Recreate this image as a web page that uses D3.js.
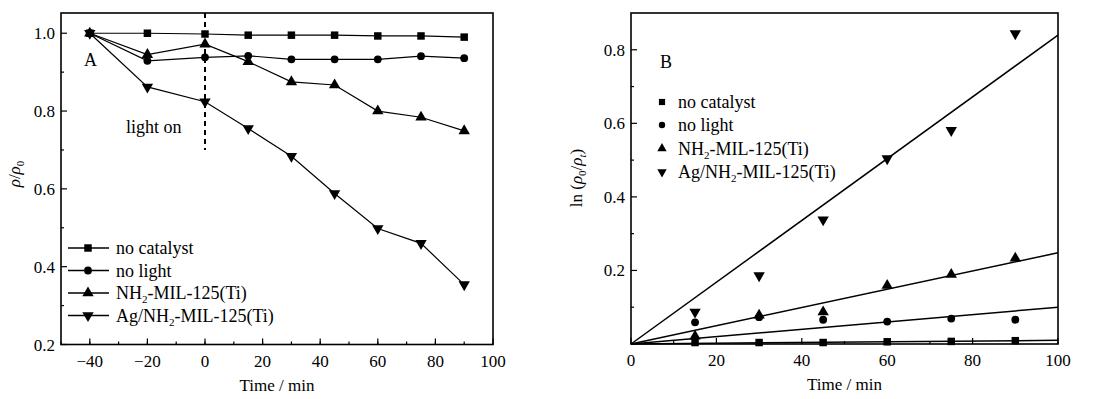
<!DOCTYPE html>
<html>
<head>
<meta charset="utf-8">
<script src="https://cdn.jsdelivr.net/npm/d3@7"></script>
<style>
  body { margin: 0; background: #fff; }
  svg text { font-family: "Liberation Serif", "Times New Roman", serif; font-size: 17px; fill: #000; }
  svg text.leg { font-size: 18px; }
</style>
</head>
<body>
<svg id="chart" width="1102" height="399"></svg>
<script>
// ---- data ----
const seriesNames = ["no catalyst", "no light", "NH2-MIL-125(Ti)", "Ag/NH2-MIL-125(Ti)"];
const markerKinds = ["square", "circle", "triangle", "down"];

// panel A: relative concentration vs time
const timeA = [-40, -20, 0, 15, 30, 45, 60, 75, 90];
const noCatalystA = [1.0, 1.0, 0.998, 0.995, 0.995, 0.995, 0.993, 0.993, 0.99];
const noLightA = [1.0, 0.929, 0.938, 0.942, 0.933, 0.933, 0.933, 0.941, 0.936];
const nh2A = [1.0, 0.945, 0.972, 0.927, 0.875, 0.867, 0.80, 0.784, 0.749];
const agA = [1.0, 0.862, 0.824, 0.755, 0.684, 0.588, 0.498, 0.46, 0.354];
const lightOnTime = 0;

// panel B: ln(rho0/rhot) vs time, with fitted slopes through origin
const timeB = [15, 30, 45, 60, 75, 90];
const noCatalystB = [0.004, 0.004, 0.004, 0.006, 0.007, 0.009];
const noLightB = [0.059, 0.073, 0.066, 0.061, 0.069, 0.066];
const nh2B = [0.021, 0.078, 0.087, 0.159, 0.189, 0.233];
const agB = [0.087, 0.186, 0.338, 0.504, 0.581, 0.844];
const fitSlopes = [0.0001, 0.001, 0.00248, 0.0084];

const xTicksA = [-40, -20, 0, 20, 40, 60, 80, 100];
const yTicksA = [0.2, 0.4, 0.6, 0.8, 1.0];
const xTicksB = [0, 20, 40, 60, 80, 100];
const yTicksB = [0.2, 0.4, 0.6, 0.8];

const svg = d3.select("#chart");

function symbolPath(kind, size) {
    const type = kind === "square" ? d3.symbolSquare
        : kind === "circle" ? d3.symbolCircle : d3.symbolTriangle;
    return d3.symbol().type(type).size(size)();
}
function addMarker(g, kind, x, y, size) {
    g.append("path")
        .attr("d", symbolPath(kind, size))
        .attr("transform", `translate(${x},${y})` + (kind === "down" ? "rotate(180)" : ""))
        .attr("fill", "#000");
}

function frame(g, x, y, xTicks, yTicks, xMinor, yMinor, fmtY) {
    const [x0, x1] = x.range(), [y0, y1] = y.range();
    // minor + major ticks pointing inward
    xMinor.forEach(v => g.append("line").attr("x1", x(v)).attr("x2", x(v))
        .attr("y1", y0).attr("y2", y0 - 3).attr("stroke", "#000").attr("stroke-width", 1.2));
    xTicks.forEach(v => g.append("line").attr("x1", x(v)).attr("x2", x(v))
        .attr("y1", y0).attr("y2", y0 - 6).attr("stroke", "#000").attr("stroke-width", 1.2));
    yMinor.forEach(v => g.append("line").attr("x1", x0).attr("x2", x0 + 3)
        .attr("y1", y(v)).attr("y2", y(v)).attr("stroke", "#000").attr("stroke-width", 1.2));
    yTicks.forEach(v => g.append("line").attr("x1", x0).attr("x2", x0 + 6)
        .attr("y1", y(v)).attr("y2", y(v)).attr("stroke", "#000").attr("stroke-width", 1.2));

    g.append("rect")
        .attr("x", x0).attr("y", y1)
        .attr("width", x1 - x0).attr("height", y0 - y1)
        .attr("fill", "none").attr("stroke", "#000").attr("stroke-width", 1.6);

    g.selectAll(".xlab").data(xTicks).enter().append("text")
        .attr("x", d => x(d)).attr("y", y0 + 22)
        .attr("text-anchor", "middle")
        .text(d => d < 0 ? "\u2212" + Math.abs(d) : d);
    g.selectAll(".ylab").data(yTicks).enter().append("text")
        .attr("x", x0 - 6).attr("y", d => y(d) + 6)
        .attr("text-anchor", "end")
        .text(fmtY);

    g.append("text")
        .attr("x", (x0 + x1) / 2).attr("y", y0 + 46)
        .attr("text-anchor", "middle")
        .text("Time / min");
}

function legendText(g, x, y, name) {
    const t = g.append("text").attr("class", "leg").attr("x", x).attr("y", y);
    const m = name.match(/^(.*NH)2(-.*)$/);
    if (m) {
        t.append("tspan").text(m[1]);
        t.append("tspan").attr("font-size", "11px").attr("dy", 4).text("2");
        t.append("tspan").attr("dy", -4).text(m[2]);
    } else {
        t.text(name);
    }
}

// ---------- Panel A ----------
(function () {
    const x = d3.scaleLinear().domain([-50, 100]).range([61, 493]);
    const y = d3.scaleLinear().domain([0.2, 1.052]).range([344.5, 13]);
    const g = svg.append("g").attr("class", "panel-a");

    frame(g, x, y, xTicksA, yTicksA,
        d3.range(-50, 100, 10), d3.range(0.3, 1.0, 0.2), d3.format(".1f"));

    // light on marker
    g.append("line")
        .attr("x1", x(lightOnTime)).attr("x2", x(lightOnTime))
        .attr("y1", y.range()[1]).attr("y2", y(0.70))
        .attr("stroke", "#000").attr("stroke-width", 2)
        .attr("stroke-dasharray", "5,4");
    g.append("text").attr("class", "leg").attr("x", 126).attr("y", 133).text("light on");
    g.append("text").attr("class", "leg").attr("x", 84).attr("y", 66).text("A");

    const sets = [noCatalystA, noLightA, nh2A, agA];
    const line = d3.line().x((d, i) => x(timeA[i])).y(d => y(d));
    sets.forEach((vals, k) => {
        g.append("path").attr("d", line(vals))
            .attr("fill", "none").attr("stroke", "#000").attr("stroke-width", 1.2);
        vals.forEach((v, i) => addMarker(g, markerKinds[k], x(timeA[i]), y(v), k === 1 ? 48 : 56));
    });

    // legend
    const rows = [248, 270.5, 293, 315.5];
    seriesNames.forEach((name, k) => {
        g.append("line").attr("x1", 68).attr("x2", 109)
            .attr("y1", rows[k]).attr("y2", rows[k])
            .attr("stroke", "#000").attr("stroke-width", 1.6);
        addMarker(g, markerKinds[k], 88, rows[k], k === 1 ? 48 : 56);
        legendText(g, 116, rows[k] + 6, name);
    });
})();

// ---------- Panel B ----------
(function () {
    const x = d3.scaleLinear().domain([0, 100]).range([631, 1058]);
    const y = d3.scaleLinear().domain([0, 0.9]).range([344, 13]);
    const g = svg.append("g").attr("class", "panel-b");

    frame(g, x, y, xTicksB, yTicksB,
        d3.range(10, 100, 20), d3.range(0.1, 0.9, 0.2), d3.format(".1f"));

    g.append("text").attr("class", "leg").attr("x", 660).attr("y", 68).text("B");

    const sets = [noCatalystB, noLightB, nh2B, agB];
    sets.forEach((vals, k) => {
        g.append("line")
            .attr("x1", x(0)).attr("y1", y(0))
            .attr("x2", x(100)).attr("y2", y(fitSlopes[k] * 100))
            .attr("stroke", "#000").attr("stroke-width", 1.5);
        vals.forEach((v, i) => addMarker(g, markerKinds[k], x(timeB[i]), y(v), k === 1 ? 48 : 56));
    });

    const rows = [102, 125, 148.5, 172];
    seriesNames.forEach((name, k) => {
        addMarker(g, markerKinds[k], 662, rows[k], k === 1 ? 32 : 38);
        legendText(g, 678, rows[k] + 6, name);
    });
})();

// axis titles with greek letters
(function () {
    const ta = svg.append("text")
        .attr("transform", "translate(20,174) rotate(-90)")
        .attr("text-anchor", "middle");
    ta.append("tspan").attr("font-style", "italic").text("\u03C1");
    ta.append("tspan").text("/");
    ta.append("tspan").attr("font-style", "italic").text("\u03C1");
    ta.append("tspan").attr("font-size", "11px").attr("dy", 4).text("0");

    const tb = svg.append("text")
        .attr("transform", "translate(582,178) rotate(-90)")
        .attr("text-anchor", "middle");
    tb.append("tspan").text("ln (");
    tb.append("tspan").attr("font-style", "italic").text("\u03C1");
    tb.append("tspan").attr("font-size", "11px").attr("dy", 4).text("0");
    tb.append("tspan").attr("dy", -4).text("/");
    tb.append("tspan").attr("font-style", "italic").text("\u03C1");
    tb.append("tspan").attr("font-size", "11px").attr("font-style", "italic").attr("dy", 4).text("t");
    tb.append("tspan").attr("dy", -4).text(")");
})();
</script>
</body>
</html>
